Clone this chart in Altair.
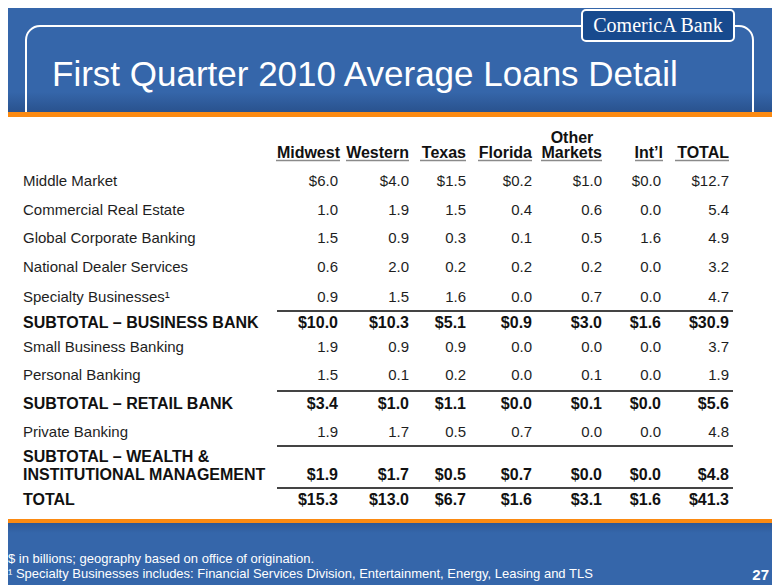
import altair as alt
import pandas as pd

# ---------------- data ----------------
col_names = ["Midwest", "Western", "Texas", "Florida", "Markets", "Int\u2019l", "TOTAL"]
col_names_top = ["", "", "", "", "Other", "", ""]

row_labels = [
    "Middle Market",
    "Commercial Real Estate",
    "Global Corporate Banking",
    "National Dealer Services",
    "Specialty Businesses\u00b9",
    "SUBTOTAL \u2013 BUSINESS BANK",
    "Small Business Banking",
    "Personal Banking",
    "SUBTOTAL \u2013 RETAIL BANK",
    "Private Banking",
    "SUBTOTAL \u2013 WEALTH &\nINSTITUTIONAL MANAGEMENT",
    "TOTAL",
]

middle_market = [6.0, 4.0, 1.5, 0.2, 1.0, 0.0, 12.7]
commercial_re = [1.0, 1.9, 1.5, 0.4, 0.6, 0.0, 5.4]
global_corp = [1.5, 0.9, 0.3, 0.1, 0.5, 1.6, 4.9]
national_dealer = [0.6, 2.0, 0.2, 0.2, 0.2, 0.0, 3.2]
specialty = [0.9, 1.5, 1.6, 0.0, 0.7, 0.0, 4.7]
subtotal_business = [10.0, 10.3, 5.1, 0.9, 3.0, 1.6, 30.9]
small_business = [1.9, 0.9, 0.9, 0.0, 0.0, 0.0, 3.7]
personal = [1.5, 0.1, 0.2, 0.0, 0.1, 0.0, 1.9]
subtotal_retail = [3.4, 1.0, 1.1, 0.0, 0.1, 0.0, 5.6]
private_banking = [1.9, 1.7, 0.5, 0.7, 0.0, 0.0, 4.8]
subtotal_wealth = [1.9, 1.7, 0.5, 0.7, 0.0, 0.0, 4.8]
total = [15.3, 13.0, 6.7, 1.6, 3.1, 1.6, 41.3]

row_values = [middle_market, commercial_re, global_corp, national_dealer, specialty,
              subtotal_business, small_business, personal, subtotal_retail,
              private_banking, subtotal_wealth, total]
bold_rows = [False, False, False, False, False, True, False, False, True, False, True, True]
dollar_rows = [True, False, False, False, False, True, False, False, True, False, True, True]

title_text = "First Quarter 2010 Average Loans Detail"
logo_text = "ComericA Bank"
footnotes = ["$ in billions; geography based on office of origination.",
             "\u00b9 Specialty Businesses includes: Financial Services Division, Entertainment, Energy, Leasing and TLS"]
page_no = "27"

# ---------------- layout (reference pixel positions) ----------------
W, H = 764, 577
OX, OY = 8, 8
col_right = [338, 409, 466, 532, 602, 661, 729]
hdr_width = [64, 63, 46, 54, 61, 28, 54]
hdr_base = [142.5, 158]
row_base = [186, 215, 243, 271.5, 302, 327.5, 351.5, 379.5, 408.5, 436.5, 480, 505]
label_x = 23
rule_y = [311, 391, 446, 488]
rule_x = [277, 733]
BLUE = "#3566AA"
ORANGE = "#FB8A12"
INK = "#1e1e1e"
FONT = "Liberation Sans"

xq = lambda f="x": alt.X(f"{f}:Q", scale=alt.Scale(domain=[OX, OX + W], range=[0, W], nice=False, zero=False), axis=None)
yq = lambda f="y": alt.Y(f"{f}:Q", scale=alt.Scale(domain=[OY, OY + H], range=[0, H], nice=False, zero=False), axis=None)

# ---------------- tables ----------------
label_recs = []
value_recs = []
for i, (lab, vals) in enumerate(zip(row_labels, row_values)):
    lines = lab.split("\n")
    for k, ln in enumerate(lines):
        label_recs.append({"x": label_x, "y": row_base[i] - 18 * (len(lines) - 1 - k),
                           "t": ln, "bold": bold_rows[i]})
    for j, v in enumerate(vals):
        txt = ("$" if dollar_rows[i] else "") + f"{v:.1f}"
        value_recs.append({"x": col_right[j], "y": row_base[i], "t": txt, "bold": bold_rows[i]})
labels = pd.DataFrame(label_recs)
vals_df = pd.DataFrame(value_recs)

hdr_shift = [2, 0, 0, 0, 0, 2, 0]
hdr_main = pd.DataFrame({"x": [col_right[j] + hdr_shift[j] for j in range(len(col_names))],
                         "y": [hdr_base[1]] * len(col_names), "t": col_names})
hdr_top = pd.DataFrame([{"x": col_right[j] - 30, "y": hdr_base[0], "t": col_names_top[j]}
                        for j in range(len(col_names)) if col_names_top[j]])

underline = pd.DataFrame({
    "x": [col_right[j] + hdr_shift[j] - hdr_width[j] for j in range(len(col_names))],
    "x2": [col_right[j] + hdr_shift[j] for j in range(len(col_names))],
    "y": [160.5] * len(col_names),
})
rules = pd.DataFrame({"x": [rule_x[0]] * len(rule_y), "x2": [rule_x[1]] * len(rule_y), "y": rule_y})

# decorative shapes
shapes = pd.DataFrame([{"x": 0, "x2": 780, "y": 92, "y2": 112}])
shapes_b = pd.DataFrame([{"x": 0, "x2": 780, "y": 523, "y2": 533}])
outline = pd.DataFrame([{"x": 26, "x2": 753, "y": 26, "y2": 150}])
orange = pd.DataFrame([{"x": 0, "x2": 780, "y": 112, "y2": 117},
                       {"x": 0, "x2": 780, "y": 519, "y2": 523}])
panel = pd.DataFrame([{"x": 2, "x2": 778, "y": 117, "y2": 519}])
logo = pd.DataFrame([{"x": 582, "x2": 734, "y": 10, "y2": 41}])

def rect_layer(df, **kw):
    return alt.Chart(df).mark_rect(**kw).encode(x=xq(), x2="x2:Q", y=yq(), y2="y2:Q")

shade = rect_layer(shapes, color=alt.LinearGradient(
    gradient="linear",
    stops=[alt.GradientStop(color="rgba(20,45,90,0)", offset=0),
           alt.GradientStop(color="rgba(20,45,90,0.35)", offset=1)],
    x1=0, x2=0, y1=0, y2=1))
shade_b = rect_layer(shapes_b, color=alt.LinearGradient(
    gradient="linear",
    stops=[alt.GradientStop(color="rgba(20,45,90,0.25)", offset=0),
           alt.GradientStop(color="rgba(20,45,90,0)", offset=1)],
    x1=0, x2=0, y1=0, y2=1))
outline_l = rect_layer(outline, fill=None, fillOpacity=0, stroke="white", strokeWidth=2, cornerRadius=14, filled=False)
orange_l = rect_layer(orange, color=ORANGE)
panel_l = rect_layer(panel, color="white")
logo_l = rect_layer(logo, color="#174A8E", stroke="white", strokeWidth=2, cornerRadius=4)

def text_layer(df, size, bold=False, align="left", color=INK, font=FONT, baseline="alphabetic"):
    return alt.Chart(df).mark_text(
        fontSize=size, fontWeight="bold" if bold else "normal", align=align,
        baseline=baseline, color=color, font=font
    ).encode(x=xq(), y=yq(), text="t:N")

lab_reg = text_layer(labels[~labels["bold"]], 15)
lab_bold = text_layer(labels[labels["bold"]], 16, bold=True, color="#111")
val_reg = text_layer(vals_df[~vals_df["bold"]], 15, align="right")
val_bold = text_layer(vals_df[vals_df["bold"]], 16, bold=True, align="right", color="#111")
hdr_l = text_layer(hdr_main, 16, bold=True, align="right", color="#111")
hdr_top_l = text_layer(hdr_top, 16, bold=True, align="center", color="#111")

ul = alt.Chart(underline).mark_rule(color="#8a8a8a", strokeWidth=1.5).encode(x=xq(), x2="x2:Q", y=yq())
rl = alt.Chart(rules).mark_rule(color="#444", strokeWidth=2).encode(x=xq(), x2="x2:Q", y=yq())

title_l = text_layer(pd.DataFrame([{"x": 52, "y": 86, "t": title_text}]), 35, color="white")
logo_t = text_layer(pd.DataFrame([{"x": 658, "y": 32, "t": logo_text}]), 20, align="center",
                    color="white", font="Liberation Serif")
foot_l = text_layer(pd.DataFrame([{"x": 8, "y": 562.5, "t": footnotes[0]},
                                  {"x": 8, "y": 577.5, "t": footnotes[1]}]), 13, color="white")
page_l = text_layer(pd.DataFrame([{"x": 769, "y": 580, "t": page_no}]), 15, bold=True,
                    align="right", color="white")

chart = alt.layer(
    shade, shade_b, outline_l, orange_l, panel_l, logo_l, logo_t, title_l,
    ul, rl, hdr_top_l, hdr_l, lab_reg, lab_bold, val_reg, val_bold, foot_l, page_l
).properties(
    width=W, height=H, padding=0, background=BLUE,
    autosize=alt.AutoSizeParams(type="none")
).configure_view(strokeWidth=0)

chart.save("out.html", embed_options={"renderer": "svg", "actions": False})
